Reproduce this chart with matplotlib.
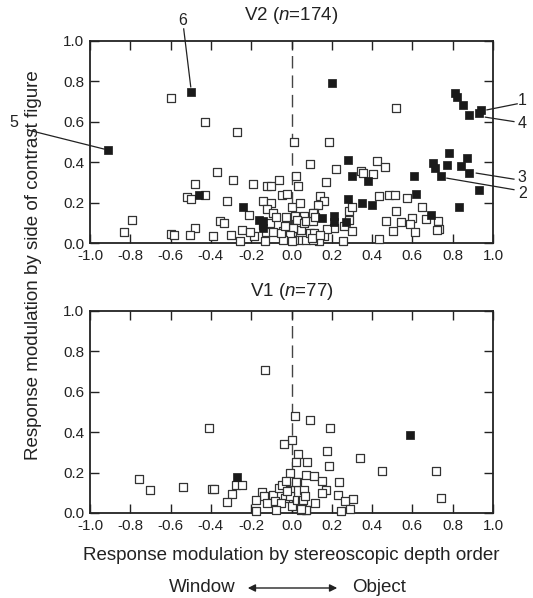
import matplotlib
matplotlib.use("Agg")
import matplotlib.pyplot as plt
import numpy as np

plt.rcParams['font.family'] = ['Liberation Sans', 'DejaVu Sans']
plt.rcParams['mathtext.fontset'] = 'custom'
plt.rcParams['mathtext.rm'] = 'Liberation Sans'
plt.rcParams['mathtext.it'] = 'Liberation Sans:italic'

# ---------------- data ----------------
v2_open_x = [-0.60, -0.43, -0.27, 0.01, 0.09, -0.37, -0.29, -0.48, -0.19, -0.12, -0.10, -0.06, 0.02, 0.03,
             -0.52, -0.50, -0.43, -0.045, -0.02, -0.32, -0.14, -0.10, 0.00, 0.04, -0.12, -0.09, -0.21,
             -0.79, -0.355, -0.335, -0.48, -0.83, -0.60, -0.585, -0.505, -0.39, -0.30, -0.245, -0.255,
             -0.185, -0.205, -0.14, -0.105, -0.125, -0.09, -0.13, -0.075, -0.02, 0.017, 0.06, 0.028,
             -0.005, -0.04, 0.003, 0.045, 0.06, 0.036, 0.07, 0.094, 0.074, 0.012,
             0.52, 0.185, 0.425, 0.466, 0.22, 0.343, 0.355, 0.403, 0.172, 0.436, 0.483, 0.514, 0.571,
             0.142, 0.163, 0.649, 0.519, 0.13, 0.285, 0.301, 0.113, 0.468, 0.541, 0.598, 0.588, 0.668,
             0.726, 0.732, 0.724, 0.503, 0.611, 0.30, 0.257, 0.435, 0.263, 0.213, 0.108, 0.113, 0.163,
             0.138, 0.105, 0.283, 0.175,
             -0.025, -0.025, 0.008, -0.008, 0.10, -0.042, 0.0, 0.142, 0.108, 0.117, -0.053, -0.033]
v2_open_y = [0.72, 0.60, 0.55, 0.50, 0.39, 0.35, 0.31, 0.29, 0.29, 0.28, 0.28, 0.31, 0.33, 0.28,
             0.23, 0.22, 0.24, 0.24, 0.245, 0.21, 0.21, 0.20, 0.18, 0.20, 0.17, 0.15, 0.14,
             0.115, 0.11, 0.10, 0.074, 0.053, 0.046, 0.041, 0.041, 0.033, 0.038, 0.066, 0.008,
             0.033, 0.054, 0.091, 0.10, 0.054, 0.053, 0.012, 0.127, 0.10, 0.132, 0.132, 0.115,
             0.058, 0.058, 0.033, 0.066, 0.099, 0.013, 0.013, 0.049, 0.107, 0.016,
             0.667, 0.50, 0.407, 0.376, 0.366, 0.357, 0.346, 0.343, 0.303, 0.231, 0.239, 0.236, 0.222,
             0.234, 0.209, 0.18, 0.16, 0.186, 0.157, 0.178, 0.148, 0.11, 0.104, 0.124, 0.096, 0.12,
             0.107, 0.071, 0.063, 0.061, 0.053, 0.061, 0.008, 0.02, 0.082, 0.074, 0.107, 0.049, 0.033,
             0.008, 0.013, 0.115, 0.071,
             0.131, 0.082, 0.074, 0.041, 0.025, 0.016, 0.008, 0.041, 0.147, 0.131, 0.049, 0.085]

v2_fill_x = [-0.50, -0.91, -0.46, -0.24, -0.16, -0.14, -0.14,
             0.20, 0.81, 0.82, 0.85, 0.88, 0.93, 0.94, 0.78, 0.87, 0.70, 0.77, 0.71, 0.84, 0.88,
             0.74, 0.61, 0.93, 0.62, 0.83, 0.69, 0.28, 0.30, 0.38, 0.28, 0.35, 0.40, 0.15, 0.21,
             0.21, 0.27]
v2_fill_y = [0.75, 0.46, 0.24, 0.18, 0.115, 0.107, 0.074,
             0.79, 0.745, 0.725, 0.684, 0.634, 0.646, 0.659, 0.448, 0.420, 0.395, 0.384, 0.371, 0.379, 0.349,
             0.334, 0.333, 0.260, 0.245, 0.176, 0.138, 0.409, 0.333, 0.305, 0.217, 0.196, 0.186, 0.122, 0.132,
             0.102, 0.102]

v1_open_x = [-0.13, -0.41, 0.015, 0.094, 0.003, -0.038, 0.031, 0.02, 0.078, -0.005, 0.074,
             -0.274, -0.244, -0.757, -0.701, -0.538, -0.393, -0.384, -0.297, -0.318, -0.145, -0.137,
             -0.178, -0.178, -0.091, -0.063, -0.046, -0.025, 0.028, -0.008, -0.03, -0.005, -0.12,
             -0.083, -0.054, -0.079, 0.003, 0.028, 0.061, 0.053, 0.045, 0.074, -0.021,
             0.19, 0.177, 0.341, 0.187, 0.11, 0.152, 0.237, 0.451, 0.717, 0.173, 0.153, 0.232,
             0.306, 0.265, 0.115, 0.29, 0.245, 0.742, 0.07, 0.049, 0.057, 0.065, 0.022]
v1_open_y = [0.707, 0.423, 0.478, 0.458, 0.362, 0.341, 0.293, 0.252, 0.252, 0.198, 0.189,
             0.137, 0.14, 0.168, 0.112, 0.128, 0.119, 0.119, 0.096, 0.053, 0.104, 0.082,
             0.066, 0.008, 0.091, 0.124, 0.14, 0.157, 0.152, 0.115, 0.074, 0.082, 0.049,
             0.058, 0.049, 0.016, 0.033, 0.066, 0.112, 0.058, 0.016, 0.013, 0.107,
             0.42, 0.305, 0.272, 0.234, 0.181, 0.157, 0.152, 0.206, 0.208, 0.112, 0.099, 0.091,
             0.069, 0.058, 0.049, 0.02, 0.008, 0.074, 0.013, 0.02, 0.066, 0.086, 0.152]

v1_fill_x = [-0.272, 0.587]
v1_fill_y = [0.176, 0.384]

# callout labels for V2 (label, point xy, line end xy, text xy)
callout_labels = ['1', '4', '3', '2', '6', '5']
callout_pts = [(0.97, 0.659), (0.962, 0.623), (0.917, 0.346), (0.771, 0.321), (-0.50, 0.773), (-0.93, 0.465)]
callout_ends = [(1.12, 0.689), (1.104, 0.601), (1.104, 0.316), (1.104, 0.264), (-0.535, 1.06), (-1.31, 0.56)]
callout_text = [(1.145, 0.705), (1.145, 0.59), (1.145, 0.322), (1.145, 0.247), (-0.54, 1.10), (-1.38, 0.595)]

ticks = [-1.0, -0.8, -0.6, -0.4, -0.2, 0.0, 0.2, 0.4, 0.6, 0.8, 1.0]
yticks = [0.0, 0.2, 0.4, 0.6, 0.8, 1.0]

# ---------------- figure ----------------
W, H = 533, 598
fig = plt.figure(figsize=(W / 100, H / 100), dpi=100)

AX_L, AX_R = 90, 493
XC = (AX_L + AX_R) / 2

def px_axes(l, r, t, b):
    return [l / W, 1 - b / H, (r - l) / W, (b - t) / H]

ax1 = fig.add_axes(px_axes(AX_L, AX_R, 41, 243))
ax2 = fig.add_axes(px_axes(AX_L, AX_R, 311, 513))

TXT = '#222222'

def style(ax):
    ax.set_xlim(-1, 1)
    ax.set_ylim(0, 1)
    ax.set_xticks(ticks)
    ax.set_xticklabels([f'{t:.1f}' for t in ticks])
    ax.set_yticks(yticks)
    ax.set_yticklabels([f'{t:.1f}' for t in yticks])
    ax.tick_params(direction='in', length=6.5, width=1.0, top=True, right=True,
                   labelsize=11, color=TXT, pad=4, labelcolor=TXT)
    for s in ax.spines.values():
        s.set_linewidth(1.3)
        s.set_color(TXT)
    ax.axvline(0, color='#444444', lw=1.0, dashes=(9, 5), zorder=1)

for ax in (ax1, ax2):
    style(ax)

OPEN_S, FILL_S = 26, 40
ax1.scatter(v2_open_x, v2_open_y, marker='s', s=OPEN_S, facecolors='white',
            edgecolors='#333333', linewidths=0.9, zorder=3, clip_on=False)
ax1.scatter(v2_fill_x, v2_fill_y, marker='s', s=FILL_S, facecolors='#1a1a1a',
            edgecolors='#1a1a1a', linewidths=0.5, zorder=4, clip_on=False)
ax2.scatter(v1_open_x, v1_open_y, marker='s', s=OPEN_S, facecolors='white',
            edgecolors='#333333', linewidths=0.9, zorder=3, clip_on=False)
ax2.scatter(v1_fill_x, v1_fill_y, marker='s', s=FILL_S, facecolors='#1a1a1a',
            edgecolors='#1a1a1a', linewidths=0.5, zorder=4, clip_on=False)

for lab, p, e, t in zip(callout_labels, callout_pts, callout_ends, callout_text):
    ax1.plot([p[0], e[0]], [p[1], e[1]], color=TXT, lw=0.9, clip_on=False, zorder=5)
    ax1.text(t[0], t[1], lab, fontsize=11.5, ha='center', va='center', color=TXT, clip_on=False)

fig.text(XC / W, 1 - 15.5 / H, r'V2 ($\mathit{n}$=174)', fontsize=13.5, ha='center', va='center', color=TXT)
fig.text(XC / W, 1 - 291 / H, r'V1 ($\mathit{n}$=77)', fontsize=13.5, ha='center', va='center', color=TXT)

fig.text(34 / W, 1 - 265 / H, 'Response modulation by side of contrast figure', rotation=90,
         ha='center', va='center', fontsize=13.5, color=TXT)
fig.text(XC / W, 1 - 556 / H, 'Response modulation by stereoscopic depth order',
         ha='center', va='center', fontsize=13.5, color=TXT)
fig.text(236 / W, 1 - 588 / H, 'Window', ha='right', va='center', fontsize=13.5, color=TXT)
fig.text(352 / W, 1 - 588 / H, 'Object', ha='left', va='center', fontsize=13.5, color=TXT)
fig.patches.append(matplotlib.patches.FancyArrowPatch(
    (245 / W, 1 - 588 / H), (340 / W, 1 - 588 / H), transform=fig.transFigure,
    arrowstyle='<|-|>', mutation_scale=11, color=TXT, lw=1.0))

fig.savefig('out.png', dpi=100)
